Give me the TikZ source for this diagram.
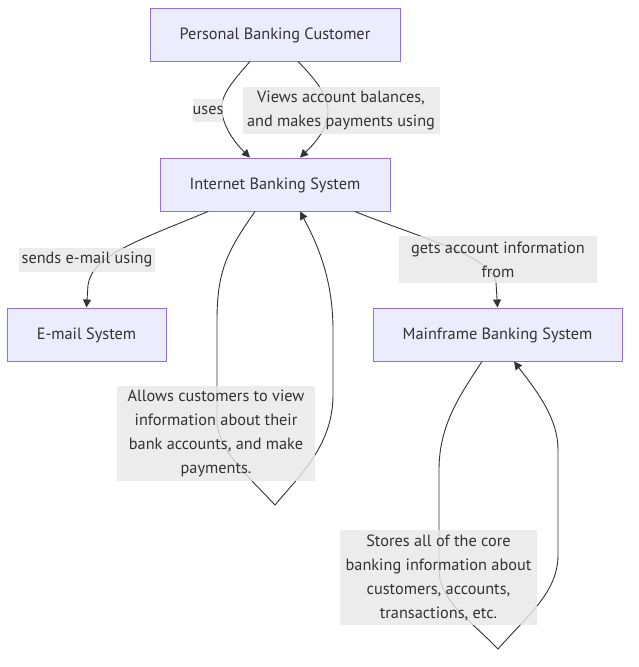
\documentclass[tikz,border=0pt]{standalone}
\usepackage{fontspec}
\setmainfont{PT Sans}
\usetikzlibrary{arrows.meta}
\definecolor{nodefill}{HTML}{ECECFF}
\definecolor{nodeline}{HTML}{9370DB}
\definecolor{txt}{HTML}{333333}
\definecolor{lblbg}{HTML}{E8E8E8}
\begin{document}
\begin{tikzpicture}[x=1pt,y=-1pt,
  box/.style={draw=nodeline, fill=nodefill, line width=1pt, text=txt, inner sep=0pt, text height=12pt, text depth=1.5pt, font=\fontsize{16.3}{18}\selectfont},
  lbl/.style={fill=lblbg, fill opacity=0.82, text opacity=1, text=txt, inner sep=0pt, align=center, font=\fontsize{16.3}{24}\selectfont},
  conn/.style={draw=txt, line width=0.9pt, -{Triangle[length=8pt,width=8pt]}}]
\useasboundingbox[fill=white] (0,0) rectangle (638,667);
% nodes
\node[box, minimum width=250pt, minimum height=53pt] (pbc) at (275,34.5) {Personal Banking Customer};
\node[box, minimum width=230pt, minimum height=53pt] (ibs) at (275,184.5) {Internet Banking System};
\node[box, minimum width=159pt, minimum height=53pt] (em) at (86.5,334.5) {E-mail System};
\node[box, minimum width=249pt, minimum height=53pt] (mbs) at (497.5,334.5) {Mainframe Banking System};
% connectors
\draw[conn] ([xshift=-25pt]pbc.south) .. controls (228,86) and (220,98) .. (222,112) .. controls (224,130) and (238,146) .. ([xshift=-25pt]ibs.north);
\draw[conn] ([xshift=23pt]pbc.south) .. controls (318,82) and (328,96) .. (328,112) .. controls (328,130) and (312,146) .. ([xshift=25pt]ibs.north);
\draw[conn] ([xshift=-67pt]ibs.south) .. controls (140,240) and (92,255) .. (88,285) -- (em.north);
\draw[conn] ([xshift=80pt]ibs.south) .. controls (420,238) and (490,255) .. (496,282) -- (mbs.north);
\draw[conn] ([xshift=-20pt]ibs.south) .. controls (228,250) and (217,270) .. (217,320) -- (217,420) .. controls (217,450) and (250,478) .. (275,505)
  .. controls (300,475) and (333,445) .. (333,395) -- (333,330) .. controls (333,280) and (318,245) .. ([xshift=25pt]ibs.south);
\draw[conn] ([xshift=-15.5pt]mbs.south) .. controls (460,395) and (439,425) .. (439,470) -- (439,570) .. controls (439,600) and (470,620) .. (498,649)
  .. controls (528,615) and (558,592) .. (558,555) -- (558,450) .. controls (558,420) and (540,395) .. ([xshift=16.5pt]mbs.south);
% labels
\node[lbl, minimum width=30pt, minimum height=23pt] (l1) at (208,110) {uses};
\node[lbl, minimum width=197pt, minimum height=47pt] (l2) at (341,110) {Views account balances,\\and makes payments using};
\node[lbl, minimum width=136pt, minimum height=24pt] (l3) at (87,259.5) {sends e-mail using};
\node[lbl, minimum width=198pt, minimum height=47pt] (l4) at (498,259.5) {gets account information\\from};
\node[lbl, minimum width=198pt, minimum height=95pt] (l5) at (216,433.5) {Allows customers to view\\information about their\\bank accounts, and make\\payments.};
\node[lbl, minimum width=197pt, minimum height=95pt] (l6) at (438.5,577.5) {Stores all of the core\\banking information about\\customers, accounts,\\transactions, etc.};
\end{tikzpicture}
\end{document}
